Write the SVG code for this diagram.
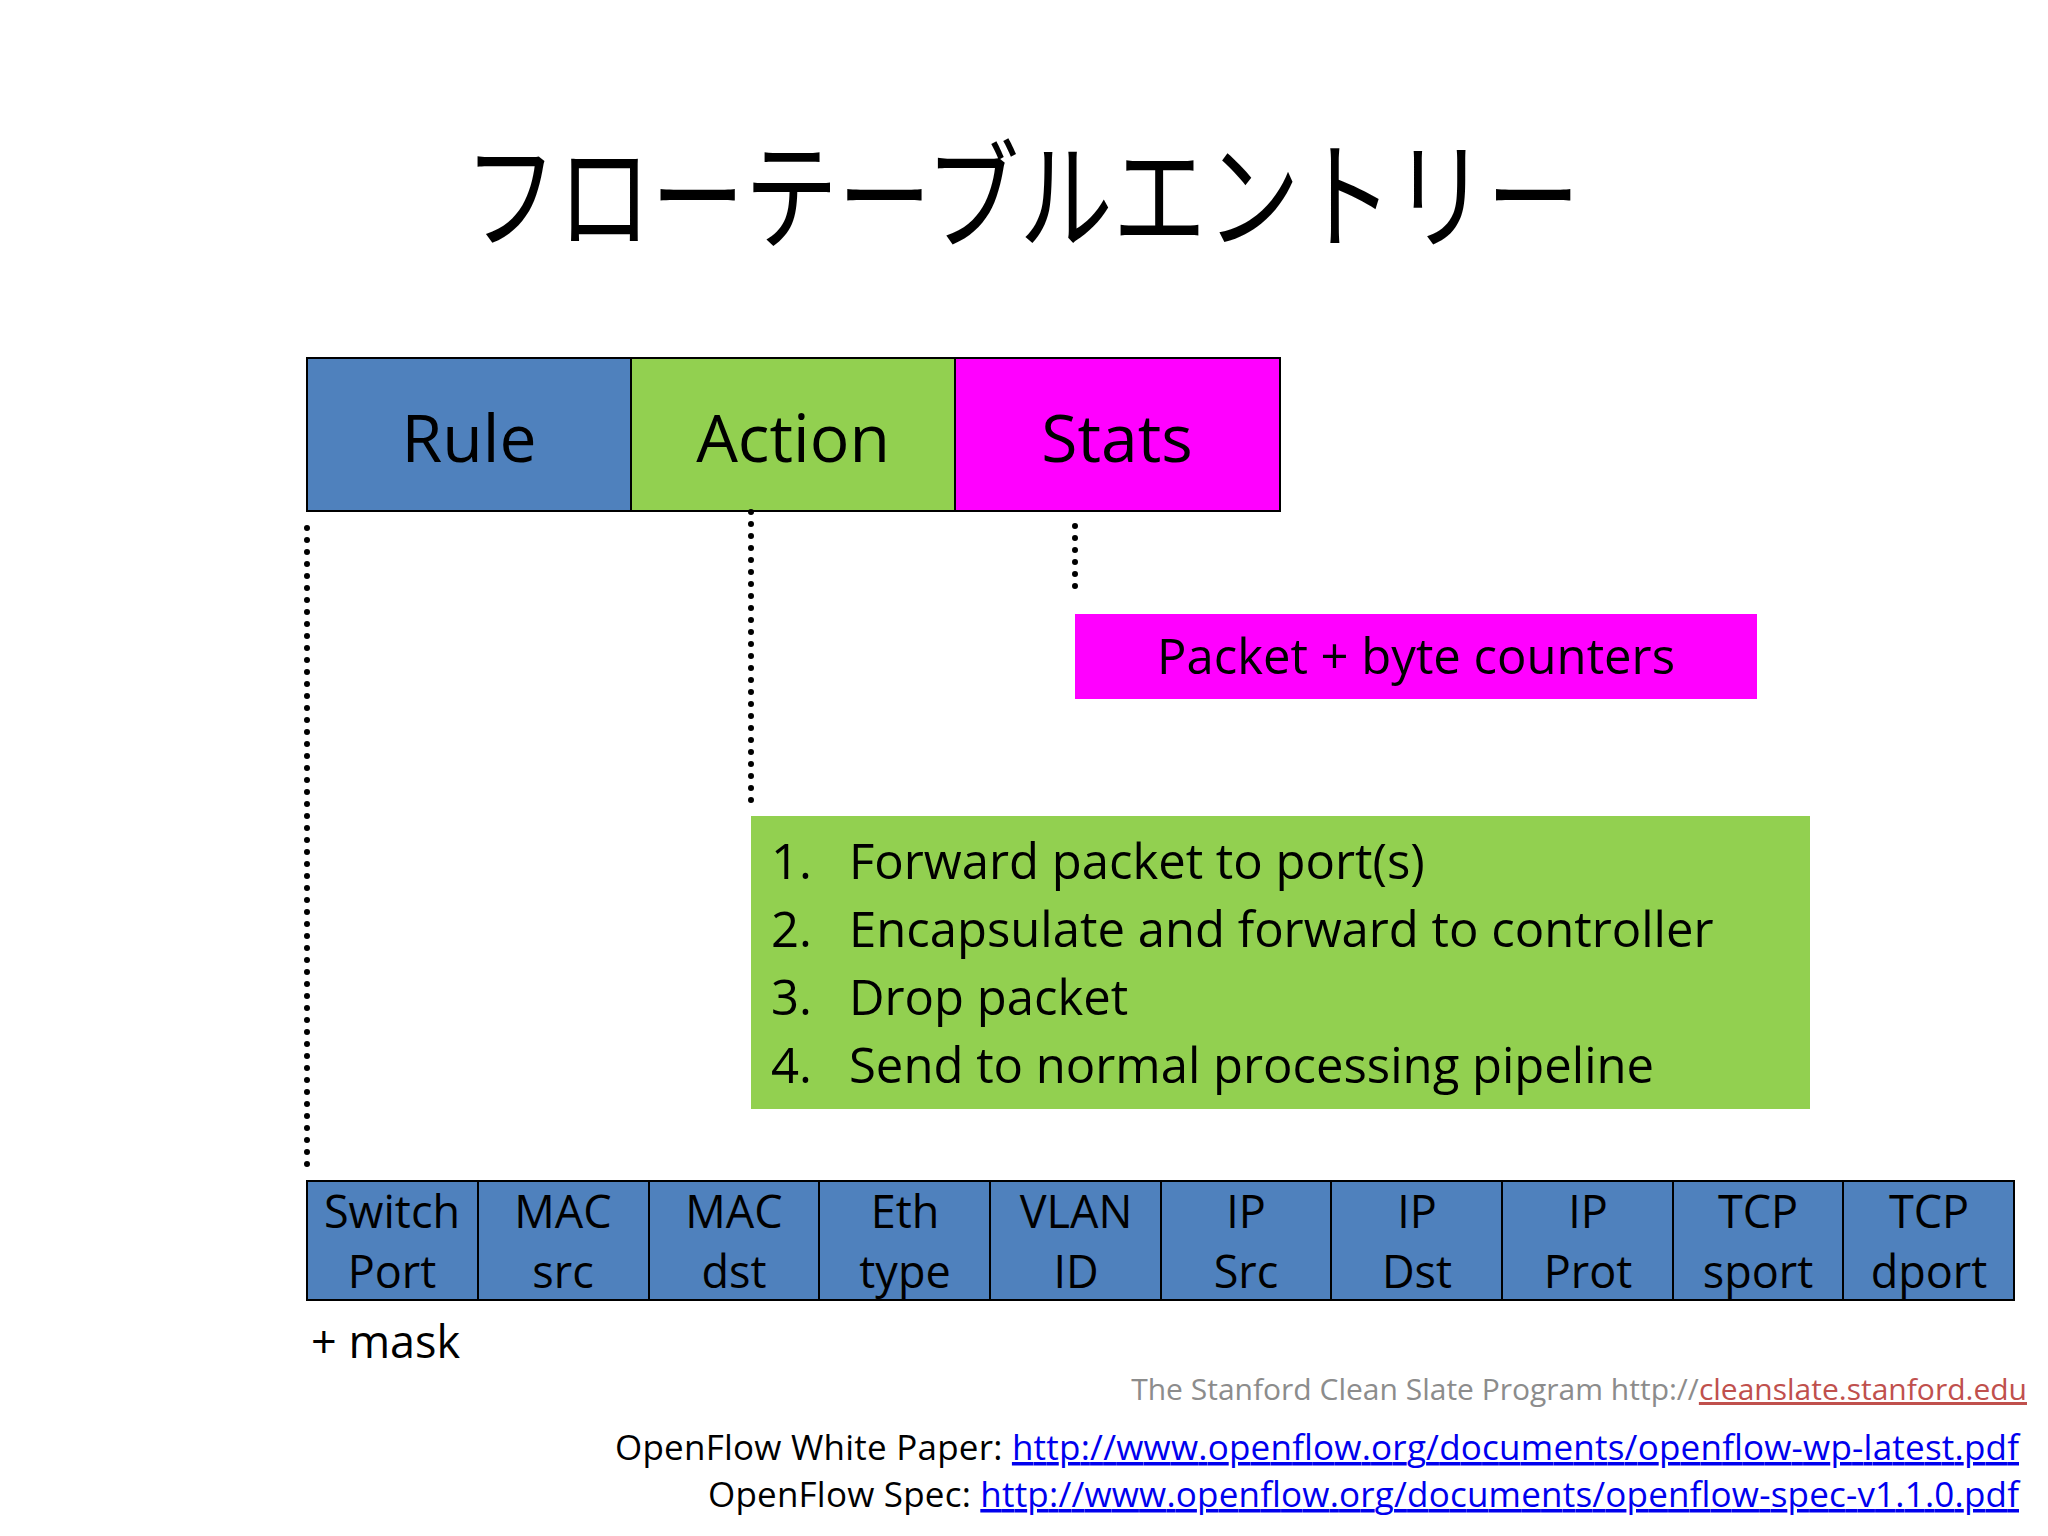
<svg xmlns="http://www.w3.org/2000/svg" width="2048" height="1536" viewBox="0 0 2048 1536">
<style>
text{font-family:"Open Sans","Noto Sans CJK JP",sans-serif;fill:#000}
.box{stroke:#000;stroke-width:2}
.dot{stroke:#000;stroke-width:6;stroke-dasharray:0 12;stroke-linecap:round;fill:none}
.big{font-size:66px;text-anchor:middle}
.cell{fill:#4f81bd;stroke:#000;stroke-width:2}
.ct{font-size:45px;text-anchor:middle}
.li{font-size:49px}
.link{fill:#0000ee;text-decoration:underline}
</style>
<rect width="2048" height="1536" fill="#fff"/>
<text x="464" y="240" font-size="118" textLength="1116" lengthAdjust="spacingAndGlyphs" font-family="Noto Sans CJK JP,sans-serif">フローテーブルエントリー</text>
<g id="rule"><rect class="box" x="307" y="358" width="324" height="153" fill="#4f81bd"/><text class="big" x="469" y="462">Rule</text></g>
<g id="action"><rect class="box" x="631" y="358" width="324" height="153" fill="#92d050"/><text class="big" x="793" y="462">Action</text></g>
<g id="stats"><rect class="box" x="955" y="358" width="325" height="153" fill="#ff00ff"/><text class="big" x="1117" y="462">Stats</text></g>
<g id="connectors">
<line class="dot" x1="1075" y1="526" x2="1075" y2="598"/>
<line class="dot" x1="751" y1="512" x2="751" y2="808"/>
<line class="dot" x1="307" y1="528" x2="307" y2="1172"/>
</g>
<g id="counters"><rect x="1075" y="614" width="682" height="85" fill="#ff00ff"/><text x="1416" y="674" font-size="49" text-anchor="middle">Packet + byte counters</text></g>
<g id="actions"><rect x="751" y="816" width="1059" height="293" fill="#92d050"/>
<text class="li" x="771" y="879">1.</text><text class="li" x="849" y="879">Forward packet to port(s)</text>
<text class="li" x="771" y="947">2.</text><text class="li" x="849" y="947">Encapsulate and forward to controller</text>
<text class="li" x="771" y="1015">3.</text><text class="li" x="849" y="1015">Drop packet</text>
<text class="li" x="771" y="1083">4.</text><text class="li" x="849" y="1083">Send to normal processing pipeline</text>
</g>
<g id="fields">
<rect class="cell" x="307" y="1181" width="171" height="119"/><text class="ct" x="392" y="1228">Switch</text><text class="ct" x="392" y="1288">Port</text>
<rect class="cell" x="478" y="1181" width="171" height="119"/><text class="ct" x="563" y="1228">MAC</text><text class="ct" x="563" y="1288">src</text>
<rect class="cell" x="649" y="1181" width="170" height="119"/><text class="ct" x="734" y="1228">MAC</text><text class="ct" x="734" y="1288">dst</text>
<rect class="cell" x="819" y="1181" width="171" height="119"/><text class="ct" x="905" y="1228">Eth</text><text class="ct" x="905" y="1288">type</text>
<rect class="cell" x="990" y="1181" width="171" height="119"/><text class="ct" x="1076" y="1228">VLAN</text><text class="ct" x="1076" y="1288">ID</text>
<rect class="cell" x="1161" y="1181" width="170" height="119"/><text class="ct" x="1246" y="1228">IP</text><text class="ct" x="1246" y="1288">Src</text>
<rect class="cell" x="1331" y="1181" width="171" height="119"/><text class="ct" x="1417" y="1228">IP</text><text class="ct" x="1417" y="1288">Dst</text>
<rect class="cell" x="1502" y="1181" width="171" height="119"/><text class="ct" x="1588" y="1228">IP</text><text class="ct" x="1588" y="1288">Prot</text>
<rect class="cell" x="1673" y="1181" width="170" height="119"/><text class="ct" x="1758" y="1228">TCP</text><text class="ct" x="1758" y="1288">sport</text>
<rect class="cell" x="1843" y="1181" width="171" height="119"/><text class="ct" x="1929" y="1228">TCP</text><text class="ct" x="1929" y="1288">dport</text>
</g>
<text x="311" y="1358" font-size="45">+ mask</text>
<text x="2027" y="1400" font-size="30" text-anchor="end" style="fill:#8c8c8c">The Stanford Clean Slate Program  http://<tspan style="fill:#c0504d;text-decoration:underline">cleanslate.stanford.edu</tspan></text>
<text x="615" y="1460" font-size="35" textLength="1404" lengthAdjust="spacing">OpenFlow White Paper: <tspan class="link">http://www.openflow.org/documents/openflow-wp-latest.pdf</tspan></text>
<text x="708" y="1507" font-size="35" textLength="1311" lengthAdjust="spacing">OpenFlow Spec: <tspan class="link">http://www.openflow.org/documents/openflow-spec-v1.1.0.pdf</tspan></text>
</svg>
